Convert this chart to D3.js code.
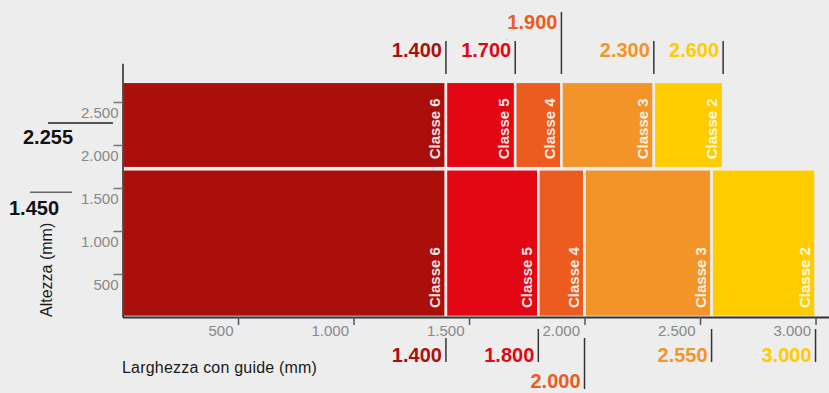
<!DOCTYPE html>
<html>
<head>
	<meta charset="utf-8">
	<title>Classi di resistenza - larghezza e altezza</title>
	<script src="https://d3js.org/d3.v7.min.js"></script>
	<style>
		body { margin: 0; background: #ededed; }
		svg { display: block; font-family: "Liberation Sans", Arial, sans-serif; }
	</style>
</head>
<body>
	<svg id="chart" width="829" height="393"></svg>
	<script type="text/javascript">

		//
		// Data

		var classNames = ["Classe 6", "Classe 5", "Classe 4", "Classe 3", "Classe 2"];
		// max width (mm) of each class, upper row (h 2.255) and lower row (h 1.450)
		var topWidths = [1400, 1700, 1900, 2300, 2600];
		var bottomWidths = [1400, 1800, 2000, 2550, 3000];
		var rowHeights = [2255, 1450];
		// vertical extent of each row as drawn, in axis units (mm)
		var topSpan = [1730, 2735];
		var bottomSpan = [0, 1718];
		var xTicks = [500, 1000, 1500, 2000, 2500, 3000];
		var yTicks = [500, 1000, 1500, 2000, 2500];

		var palette = ["#ab0f0c", "#e30613", "#eb5c1e", "#f39429", "#ffcc00"];

		//
		// Setup

		var svg = d3.select("#chart");
		var it = d3.formatLocale({decimal: ",", thousands: ".", grouping: [3], currency: ["", " €"]});
		var fmt = it.format(",");

		var x = d3.scaleLinear().domain([0, 3060]).range([122.5, 829.4]);
		var y = d3.scaleLinear().domain([0, 2950]).range([317, 63.3]);
		var color = d3.scaleOrdinal(classNames, palette);

		var rows = [
			{widths: topWidths, span: topSpan},
			{widths: bottomWidths, span: bottomSpan}
		];

		//
		// Bars

		rows.forEach(function(row) {
			var cells = row.widths.map(function(w, i) {
				return {name: classNames[i], x0: i ? row.widths[i - 1] : 0, x1: w, y0: row.span[0], y1: row.span[1]};
			});
			var g = svg.append("g");
			g.selectAll("rect")
				.data(cells)
				.enter()
				.append("rect")
				.attr("x", function(d) { return x(d.x0); })
				.attr("y", function(d) { return y(d.y1); })
				.attr("width", function(d) { return x(d.x1) - x(d.x0); })
				.attr("height", function(d) { return y(d.y0) - y(d.y1); })
				.attr("fill", function(d) { return color(d.name); })
				.attr("stroke", "#ededed")
				.attr("stroke-width", 2.6);
			g.selectAll("text")
				.data(cells)
				.enter()
				.append("text")
				.attr("transform", function(d) {
					return "translate(" + (x(d.x1) - 6) + "," + (y(d.y0) - 9) + ") rotate(-90)";
				})
				.attr("fill", "#fff")
				.attr("fill-opacity", 0.9)
				.attr("font-size", 15)
				.attr("font-weight", "bold")
				.text(function(d) { return d.name; });
		});

		//
		// Axes

		var xAxis = svg.append("g")
			.attr("transform", "translate(0," + y(0) + ")")
			.call(d3.axisBottom(x).tickValues(xTicks).tickFormat(fmt).tickSize(8).tickSizeOuter(0));
		xAxis.select(".domain").attr("stroke", "#333").attr("stroke-width", 2);
		xAxis.selectAll(".tick line").attr("stroke", "#555").attr("stroke-width", 1.5);
		xAxis.selectAll(".tick text")
			.attr("text-anchor", "end")
			.attr("x", -5)
			.attr("y", 8)
			.attr("fill", "#888")
			.attr("font-size", 15)
			.attr("font-family", "Liberation Sans, Arial, sans-serif");

		var yAxis = svg.append("g")
			.attr("transform", "translate(" + x(0) + ",0)")
			.call(d3.axisLeft(y).tickValues(yTicks).tickFormat(fmt).tickSize(9).tickSizeOuter(0));
		yAxis.select(".domain").attr("stroke", "#222").attr("stroke-width", 1.5);
		yAxis.selectAll(".tick line").attr("stroke", "#777").attr("stroke-width", 1.5);
		yAxis.selectAll(".tick text")
			.attr("text-anchor", "end")
			.attr("x", -4)
			.attr("y", 5)
			.attr("dy", "0.71em")
			.attr("fill", "#888")
			.attr("font-size", 15)
			.attr("font-family", "Liberation Sans, Arial, sans-serif");

		// axis titles
		svg.append("text")
			.attr("x", 122)
			.attr("y", 373)
			.attr("font-size", 16)
			.attr("letter-spacing", 0.2)
			.attr("fill", "#1a1a1a")
			.text("Larghezza con guide (mm)");
		svg.append("text")
			.attr("transform", "translate(52," + y(0) + ") rotate(-90)")
			.attr("font-size", 16)
			.attr("fill", "#1a1a1a")
			.text("Altezza (mm)");

		//
		// Height marks on the left

		var hMarks = [
			{v: rowHeights[0], x1: 48, x2: 113, tx: 23, ty: 144, line: "#222"},
			{v: rowHeights[1], x1: 30, x2: 72, tx: 9, ty: 215, line: "#666"}
		];
		hMarks.forEach(function(m) {
			svg.append("line")
				.attr("x1", m.x1).attr("x2", m.x2)
				.attr("y1", y(m.v)).attr("y2", y(m.v))
				.attr("stroke", m.line)
				.attr("stroke-width", 1.5);
			svg.append("text")
				.attr("x", m.tx)
				.attr("y", m.ty)
				.attr("font-size", 20)
				.attr("font-weight", "bold")
				.attr("fill", "#111")
				.text(fmt(m.v));
		});

		//
		// Width marks above / below the rows

		// tick label boxes, so the lower marks can clear them
		var tickBoxes = [];
		xAxis.selectAll(".tick text").each(function() {
			var b = this.getBoundingClientRect();
			tickBoxes.push([b.left, b.right]);
		});

		function widthMarks(widths, top) {
			var g = svg.append("g");
			var lastRight = -Infinity;
			widths.forEach(function(w, i) {
				var px = x(w);
				var t = g.append("text")
					.attr("text-anchor", "end")
					.attr("x", px - 4)
					.attr("font-size", 20)
					.attr("font-weight", "bold")
					.attr("fill", color(classNames[i]))
					.text(fmt(w));
				var len = t.node().getComputedTextLength();
				// stack the label one level further out when it would hit the previous one
				var tier = 0;
				if (px - 4 - len < lastRight + 2) {
					tier = 1;
				} else {
					lastRight = px - 4;
				}
				var ly1, ly2, base;
				if (top) {
					ly2 = 74;
					ly1 = tier ? 12 : 41;
					base = tier ? 29 : 57;
				} else {
					var clash = tickBoxes.some(function(b) { return px > b[0] - 2 && px < b[1] + 4; });
					ly1 = (tier || clash) ? 338 : 329;
					ly2 = tier ? 389 : 362;
					base = tier ? 388 : 362;
				}
				t.attr("y", base);
				g.append("line")
					.attr("x1", px).attr("x2", px)
					.attr("y1", ly1).attr("y2", ly2)
					.attr("stroke", "#333")
					.attr("stroke-width", 1.5);
			});
		}

		widthMarks(topWidths, true);
		widthMarks(bottomWidths, false);

	</script>
</body>
</html>
